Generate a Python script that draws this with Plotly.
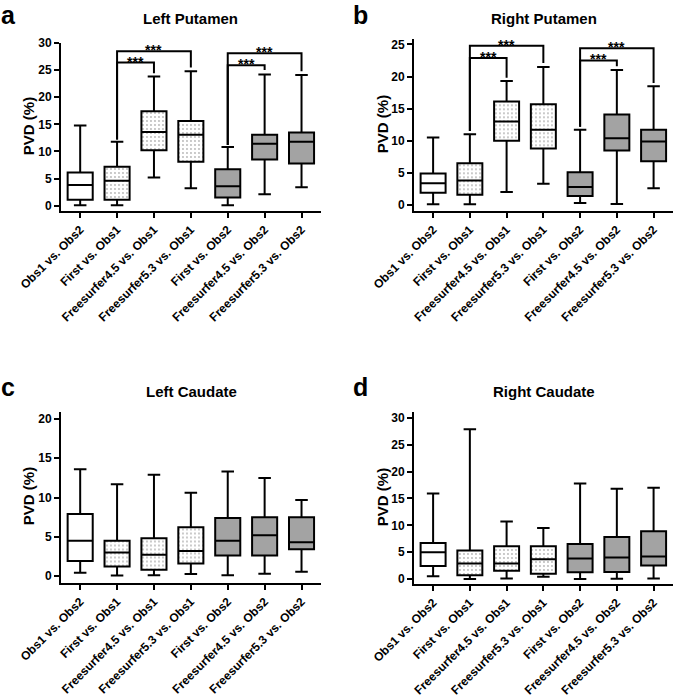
import plotly.graph_objects as go

W, H = 675, 699

categories = ["Obs1 vs. Obs2", "First vs. Obs1", "Freesurfer4.5 vs. Obs1",
              "Freesurfer5.3 vs. Obs1", "First vs. Obs2", "Freesurfer4.5 vs. Obs2",
              "Freesurfer5.3 vs. Obs2"]

# (a) Left Putamen
lp_lower = [0.1, 0.1, 5.2, 3.2, 0.1, 2.1, 3.4]
lp_q1 = [1.1, 1.1, 10.2, 8.1, 1.5, 8.5, 7.8]
lp_median = [3.8, 4.6, 13.6, 13.1, 3.6, 11.4, 11.8]
lp_q3 = [6.1, 7.2, 17.4, 15.6, 6.7, 13.1, 13.5]
lp_upper = [14.8, 11.8, 23.8, 24.8, 10.8, 24.2, 24.1]

# (b) Right Putamen
rp_lower = [0.1, 0.1, 2.0, 3.3, 0.3, 0.15, 2.6]
rp_q1 = [1.9, 1.6, 10.0, 8.8, 1.4, 8.5, 6.8]
rp_median = [3.4, 3.8, 13.0, 11.7, 2.8, 10.4, 9.9]
rp_q3 = [4.9, 6.5, 16.1, 15.7, 5.1, 14.1, 11.7]
rp_upper = [10.5, 11.0, 19.3, 21.5, 11.7, 21.0, 18.5]

# (c) Left Caudate
lc_lower = [0.4, 0.05, 0.1, 0.25, 0.1, 0.3, 0.55]
lc_q1 = [1.9, 1.2, 0.8, 1.6, 2.6, 2.6, 3.4]
lc_median = [4.5, 3.0, 2.7, 3.2, 4.5, 5.2, 4.3]
lc_q3 = [7.9, 4.5, 4.8, 6.2, 7.4, 7.5, 7.5]
lc_upper = [13.6, 11.7, 12.9, 10.6, 13.3, 12.5, 9.7]

# (d) Right Caudate
rc_lower = [0.5, 0.0, 0.1, 0.4, 0.0, 0.05, 0.1]
rc_q1 = [2.4, 0.7, 1.55, 1.0, 1.25, 1.3, 2.5]
rc_median = [5.0, 2.9, 2.9, 3.7, 3.8, 4.0, 4.2]
rc_q3 = [6.7, 5.3, 6.1, 6.1, 6.5, 7.8, 8.9]
rc_upper = [15.9, 27.9, 10.7, 9.5, 17.8, 16.8, 17.0]

# significance brackets (category index from / to, bracket height, leg ends)
lp_brk_from = [1, 1, 4, 4]
lp_brk_to = [2, 3, 5, 6]
lp_brk_y = [26.4, 28.5, 25.9, 28.1]
lp_brk_from_end = [12.2, 12.2, 11.2, 11.2]
lp_brk_to_end = [24.4, 25.5, 25.0, 24.8]

rp_brk_from = [1, 1, 4, 4]
rp_brk_to = [2, 3, 5, 6]
rp_brk_y = [22.9, 24.8, 22.5, 24.4]
rp_brk_from_end = [11.5, 11.5, 12.2, 12.2]
rp_brk_to_end = [19.8, 22.1, 21.6, 19.0]

sig_label = "***"

FONT = "Liberation Sans, Arial, sans-serif"
GRAY = "#a3a3a3"
BOXW = 0.68


def px_x(v):
    return v / W


def px_y(v):
    return 1 - v / H


panels = [
    dict(title="Left Putamen", letter="a",
         stats=(lp_lower, lp_q1, lp_median, lp_q3, lp_upper),
         brk=(lp_brk_from, lp_brk_to, lp_brk_y, lp_brk_from_end, lp_brk_to_end),
         xdom=(61, 320.7), ydom=(43, 211), yrange=(-0.98, 30), ydtick=5,
         title_pos=(190.5, 18.5), letter_pos=(0, 0), ytitle_pos=(28.5, 126.7)),
    dict(title="Right Putamen", letter="b",
         stats=(rp_lower, rp_q1, rp_median, rp_q3, rp_upper),
         brk=(rp_brk_from, rp_brk_to, rp_brk_y, rp_brk_from_end, rp_brk_to_end),
         xdom=(414, 672.7), ydom=(39.3, 211), yrange=(-0.94, 25.8), ydtick=5,
         title_pos=(544, 18.5), letter_pos=(352, 0), ytitle_pos=(382.5, 124.7)),
    dict(title="Left Caudate", letter="c",
         stats=(lc_lower, lc_q1, lc_median, lc_q3, lc_upper),
         brk=None,
         xdom=(61, 320.7), ydom=(411.5, 583), yrange=(-0.89, 20.96), ydtick=5,
         title_pos=(191, 391.5), letter_pos=(0, 372), ytitle_pos=(28.5, 496.7)),
    dict(title="Right Caudate", letter="d",
         stats=(rc_lower, rc_q1, rc_median, rc_q3, rc_upper),
         brk=None,
         xdom=(414, 672.7), ydom=(412, 584), yrange=(-0.93, 31.1), ydtick=5,
         title_pos=(543.7, 391.5), letter_pos=(352, 372), ytitle_pos=(382.5, 497.7)),
]

fig = go.Figure()
annotations = []
layout_axes = {}

white_idx = [0]
dotted_idx = [1, 2, 3]
gray_idx = [4, 5, 6]

for k, p in enumerate(panels):
    sfx = "" if k == 0 else str(k + 1)
    xa, ya = "x" + sfx, "y" + sfx
    lower, q1, med, q3, upper = p["stats"]

    # dotted fill under patterned boxes
    fig.add_trace(go.Bar(
        x=dotted_idx, base=[q1[i] for i in dotted_idx],
        y=[q3[i] - q1[i] for i in dotted_idx], width=BOXW,
        marker=dict(color="white", line=dict(width=0),
                    pattern=dict(shape=".", size=4, solidity=0.18,
                                 fgcolor="#707070", bgcolor="white", fillmode="overlay")),
        hoverinfo="skip", showlegend=False, xaxis=xa, yaxis=ya))

    for idx, fill in ((white_idx, "white"), (dotted_idx, "rgba(0,0,0,0)"), (gray_idx, GRAY)):
        fig.add_trace(go.Box(
            x=idx,
            lowerfence=[lower[i] for i in idx], q1=[q1[i] for i in idx],
            median=[med[i] for i in idx], q3=[q3[i] for i in idx],
            upperfence=[upper[i] for i in idx],
            width=BOXW, whiskerwidth=0.5, fillcolor=fill,
            line=dict(color="black", width=2), boxpoints=False,
            hoverinfo="skip", showlegend=False, xaxis=xa, yaxis=ya))

    if p["brk"] is not None:
        bf, bt, by, bfe, bte = p["brk"]
        xs, ys = [], []
        for j in range(len(bf)):
            xs += [bf[j], bf[j], bt[j], bt[j], None]
            ys += [bfe[j], by[j], by[j], bte[j], None]
            annotations.append(dict(
                x=(bf[j] + bt[j]) / 2, y=by[j], xref=xa, yref=ya,
                text=sig_label, showarrow=False, yanchor="middle", yshift=1,
                font=dict(family=FONT, size=14, color="black", weight="bold")))
        fig.add_trace(go.Scatter(
            x=xs, y=ys, mode="lines", line=dict(color="black", width=2),
            hoverinfo="skip", showlegend=False, cliponaxis=False,
            xaxis=xa, yaxis=ya))

    ylo, yhi = p["yrange"]
    layout_axes["xaxis" + sfx] = dict(
        domain=[px_x(p["xdom"][0]), px_x(p["xdom"][1])], anchor=ya,
        range=[-0.52, 6.52], tickmode="array", tickvals=list(range(7)),
        ticktext=categories, tickangle=-45, ticks="outside", ticklen=5,
        tickwidth=2, tickcolor="black", showline=True, linewidth=2,
        linecolor="black", showgrid=False, zeroline=False, automargin=False,
        tickfont=dict(family=FONT, size=12, color="black", weight="bold"),
        fixedrange=True)
    layout_axes["yaxis" + sfx] = dict(
        domain=[px_y(p["ydom"][1]), px_y(p["ydom"][0])], anchor=xa,
        range=[ylo, yhi], tickmode="linear", tick0=0, dtick=p["ydtick"],
        ticks="outside", ticklen=5, tickwidth=2, tickcolor="black",
        showline=True, linewidth=2, linecolor="black", showgrid=False,
        zeroline=False, automargin=False,
        tickfont=dict(family=FONT, size=12, color="black", weight="bold"),
        fixedrange=True)

    annotations.append(dict(
        x=px_x(p["title_pos"][0]), y=px_y(p["title_pos"][1]), xref="paper",
        yref="paper", text=p["title"], showarrow=False, xanchor="center",
        yanchor="middle",
        font=dict(family=FONT, size=15, color="black", weight="bold")))
    annotations.append(dict(
        x=px_x(p["letter_pos"][0]), y=px_y(p["letter_pos"][1]), xref="paper",
        yref="paper", text=p["letter"], showarrow=False, xanchor="left",
        yanchor="top", borderpad=0,
        font=dict(family=FONT, size=25, color="black", weight="bold")))
    annotations.append(dict(
        x=px_x(p["ytitle_pos"][0]), y=px_y(p["ytitle_pos"][1]), xref="paper",
        yref="paper", text="PVD (%)", showarrow=False, textangle=-90,
        xanchor="center", yanchor="middle",
        font=dict(family=FONT, size=15, color="black", weight="bold")))

fig.update_layout(
    template="none",
    width=W, height=H, autosize=False,
    margin=dict(l=0, r=0, t=0, b=0, pad=0),
    paper_bgcolor="white", plot_bgcolor="white",
    font=dict(family=FONT, size=12, color="black", weight="bold"),
    boxmode="overlay", barmode="overlay", showlegend=False,
    annotations=annotations,
    **layout_axes)

fig.write_html("out.html", config={"displayModeBar": False, "staticPlot": True},
               post_script="document.body.style.margin='0px';")
